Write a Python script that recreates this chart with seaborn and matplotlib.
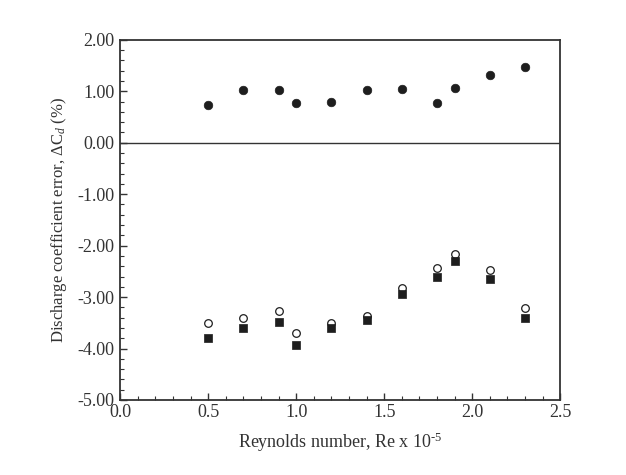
import matplotlib
matplotlib.use("Agg")
import matplotlib.pyplot as plt
from matplotlib.ticker import MultipleLocator, FormatStrFormatter
import seaborn as sns
import pandas as pd

reynolds = [0.5, 0.7, 0.9, 1.0, 1.2, 1.4, 1.6, 1.8, 1.9, 2.1, 2.3]
filled_circles = [0.74, 1.02, 1.03, 0.77, 0.79, 1.03, 1.05, 0.77, 1.06, 1.31, 1.47]
open_circles = [-3.50, -3.41, -3.28, -3.69, -3.51, -3.37, -2.82, -2.43, -2.17, -2.47, -3.22]
filled_squares = [-3.80, -3.61, -3.48, -3.93, -3.61, -3.44, -2.94, -2.61, -2.29, -2.64, -3.40]

sns.set_theme(style="ticks")
plt.rcParams["font.family"] = ["Liberation Serif", "DejaVu Serif"]
plt.rcParams["mathtext.fontset"] = "custom"
plt.rcParams["mathtext.rm"] = "Liberation Serif"
plt.rcParams["mathtext.it"] = "Liberation Serif:italic"
plt.rcParams["axes.unicode_minus"] = False

fig = plt.figure(figsize=(6.26, 4.75), dpi=100)
ax = fig.add_axes([0.192, 0.158, 0.703, 0.758])

df = pd.DataFrame({"x": reynolds, "fc": filled_circles, "oc": open_circles, "fs": filled_squares})

ink = "#1e1e1e"
sns.scatterplot(data=df, x="x", y="fc", ax=ax, marker="o", s=38, color=ink, edgecolor=ink, linewidth=0.5, zorder=3)
sns.scatterplot(data=df, x="x", y="oc", ax=ax, marker="o", s=30, facecolor="white", edgecolor=ink, linewidth=0.9, zorder=3)
sns.scatterplot(data=df, x="x", y="fs", ax=ax, marker="s", s=38, color=ink, edgecolor=ink, linewidth=0.5, zorder=4)

ax.axhline(0, color="#333333", linewidth=1.0, zorder=2)

ax.set_xlim(0, 2.5)
ax.set_ylim(-5, 2)
ax.xaxis.set_major_locator(MultipleLocator(0.5))
ax.xaxis.set_minor_locator(MultipleLocator(0.1))
ax.yaxis.set_major_locator(MultipleLocator(1.0))
ax.yaxis.set_minor_locator(MultipleLocator(0.2))
ax.xaxis.set_major_formatter(FormatStrFormatter("%.1f"))
ax.yaxis.set_major_formatter(FormatStrFormatter("%.2f"))

ax.tick_params(axis="both", which="both", direction="in", colors="#333333", labelcolor="#333333")
ax.tick_params(which="major", length=5, width=1.0, labelsize=13)
ax.tick_params(which="minor", length=3, width=0.8)
ax.tick_params(axis="y", pad=4)
ax.tick_params(axis="x", pad=3)
for sp in ax.spines.values():
    sp.set_linewidth(1.3)
    sp.set_color("#333333")

ax.set_xlabel("Reynolds number, Re x 10$^{\\text{-5}}$", fontsize=13, color="#333333", labelpad=7)
ax.set_ylabel("Discharge coefficient error, ΔC$_{d}$ (%)", fontsize=12, color="#333333", labelpad=6)

fig.savefig("out.png", dpi=100, facecolor="white")
